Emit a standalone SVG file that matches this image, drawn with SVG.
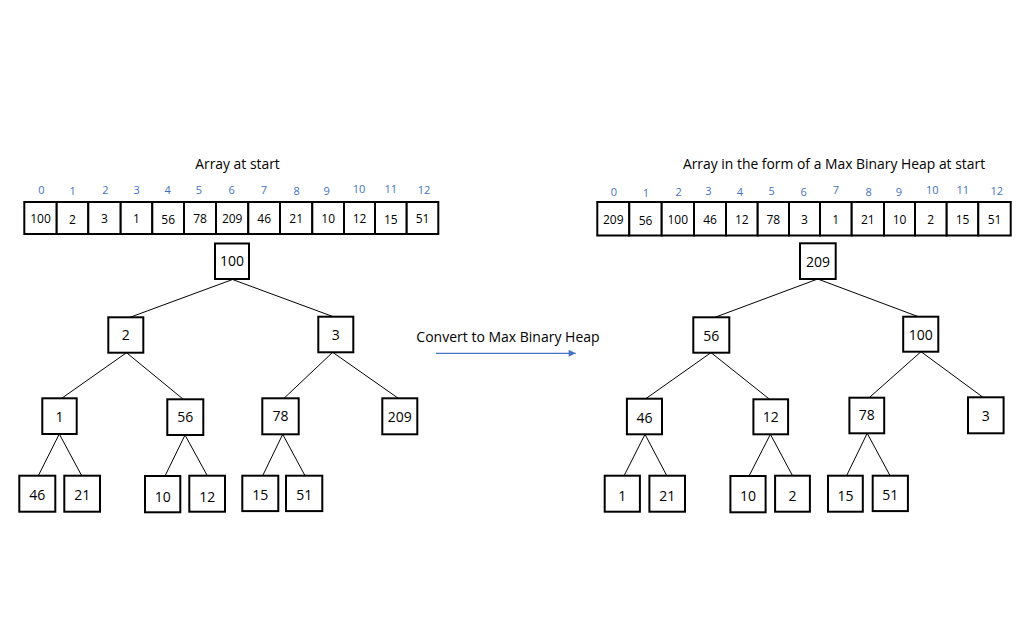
<svg xmlns="http://www.w3.org/2000/svg" width="1021" height="643" viewBox="0 0 1021 643">
<style>
  .bg{fill:#fff}
  text{font-family:"Open Sans","Noto Sans","DejaVu Sans",sans-serif;fill:#000}
  .title{font-size:13.9px}
  .idx{font-size:11px;fill:#4472C4;text-anchor:middle}
  .cell{fill:#fff;stroke:#000;stroke-width:2}
  .ct{font-size:12px;text-anchor:middle}
  .node rect{fill:#fff;stroke:#000;stroke-width:2}
  .node text{font-size:14px;text-anchor:middle}
  .edge{stroke:#000;stroke-width:1;fill:none}
  .conv{stroke:#4472C4;stroke-width:1.2;fill:none}
</style>
<defs>
  <marker id="ah" viewBox="0 0 10 10" refX="10" refY="5" markerWidth="8" markerHeight="7" markerUnits="userSpaceOnUse" orient="auto">
    <path d="M0,0 L10,5 L0,10 z" fill="#4472C4"/>
  </marker>
</defs>
<rect class="bg" x="0" y="0" width="1021" height="643"/>

<!-- Left array -->
<g id="array-start">
  <text class="title" x="237.5" y="168.5" text-anchor="middle">Array at start</text>
  <g>
    <text class="idx" x="41.5" y="193.5">0</text>
    <text class="idx" x="72.7" y="195">1</text>
    <text class="idx" x="105.5" y="193.5">2</text>
    <text class="idx" x="136.7" y="193.5">3</text>
    <text class="idx" x="167.7" y="193.5">4</text>
    <text class="idx" x="199" y="193.5">5</text>
    <text class="idx" x="231.7" y="193.5">6</text>
    <text class="idx" x="264" y="193.5">7</text>
    <text class="idx" x="296.7" y="195">8</text>
    <text class="idx" x="326.7" y="195">9</text>
    <text class="idx" x="359" y="192.5">10</text>
    <text class="idx" x="390.7" y="192.5">11</text>
    <text class="idx" x="424" y="193.5">12</text>
  </g>
  <g>
    <rect class="cell" x="24.3" y="202" width="32.4" height="32"/>
    <rect class="cell" x="56.7" y="202" width="31.6" height="32"/>
    <rect class="cell" x="88.3" y="202" width="32.4" height="32"/>
    <rect class="cell" x="120.7" y="202" width="31.6" height="32"/>
    <rect class="cell" x="152.3" y="202" width="31.7" height="32"/>
    <rect class="cell" x="184" y="202" width="32" height="32"/>
    <rect class="cell" x="216" y="202" width="32.3" height="32"/>
    <rect class="cell" x="248.3" y="202" width="31.7" height="32"/>
    <rect class="cell" x="280" y="202" width="32.3" height="32"/>
    <rect class="cell" x="312.3" y="202" width="31.7" height="32"/>
    <rect class="cell" x="344" y="202" width="31" height="32"/>
    <rect class="cell" x="375" y="202" width="31.7" height="32"/>
    <rect class="cell" x="406.7" y="202" width="31.6" height="32"/>
  </g>
  <g>
    <text class="ct" x="40.5" y="222.7">100</text>
    <text class="ct" x="72.5" y="224.2">2</text>
    <text class="ct" x="104.5" y="222.7">3</text>
    <text class="ct" x="136.5" y="222.7">1</text>
    <text class="ct" x="168.2" y="224.2">56</text>
    <text class="ct" x="200" y="222.7">78</text>
    <text class="ct" x="232.2" y="222.7">209</text>
    <text class="ct" x="264.2" y="222.7">46</text>
    <text class="ct" x="296.2" y="222.7">21</text>
    <text class="ct" x="328.2" y="222.7">10</text>
    <text class="ct" x="359.5" y="223.2">12</text>
    <text class="ct" x="390.8" y="224.2">15</text>
    <text class="ct" x="422.5" y="222.7">51</text>
  </g>
</g>

<!-- Right array -->
<g id="array-heap">
  <text class="title" x="834" y="169" text-anchor="middle">Array in the form of a Max Binary Heap at start</text>
  <g>
    <text class="idx" x="614" y="195.5">0</text>
    <text class="idx" x="646" y="196.5">1</text>
    <text class="idx" x="678.7" y="195.5">2</text>
    <text class="idx" x="708.3" y="194.5">3</text>
    <text class="idx" x="740" y="195.5">4</text>
    <text class="idx" x="771.7" y="194.5">5</text>
    <text class="idx" x="803.7" y="195.5">6</text>
    <text class="idx" x="836" y="194">7</text>
    <text class="idx" x="868.7" y="196">8</text>
    <text class="idx" x="899" y="196">9</text>
    <text class="idx" x="932.3" y="194">10</text>
    <text class="idx" x="962.7" y="194">11</text>
    <text class="idx" x="996.7" y="195">12</text>
  </g>
  <g>
    <rect class="cell" x="597.3" y="202" width="32" height="33.5"/>
    <rect class="cell" x="629.3" y="202" width="32.4" height="33.5"/>
    <rect class="cell" x="661.7" y="202" width="32.3" height="33.5"/>
    <rect class="cell" x="694" y="202" width="32" height="33.5"/>
    <rect class="cell" x="726" y="202" width="31.7" height="33.5"/>
    <rect class="cell" x="757.7" y="202" width="31.3" height="33.5"/>
    <rect class="cell" x="789" y="202" width="31" height="33.5"/>
    <rect class="cell" x="820" y="202" width="31.7" height="33.5"/>
    <rect class="cell" x="851.7" y="202" width="32.3" height="33.5"/>
    <rect class="cell" x="884" y="202" width="31" height="33.5"/>
    <rect class="cell" x="915" y="202" width="31.7" height="33.5"/>
    <rect class="cell" x="946.7" y="202" width="31.6" height="33.5"/>
    <rect class="cell" x="978.3" y="202" width="32.4" height="33.5"/>
  </g>
  <g>
    <text class="ct" x="613.3" y="223.5">209</text>
    <text class="ct" x="645.5" y="225">56</text>
    <text class="ct" x="677.8" y="223.5">100</text>
    <text class="ct" x="710" y="223.5">46</text>
    <text class="ct" x="741.8" y="223.5">12</text>
    <text class="ct" x="773.3" y="223.5">78</text>
    <text class="ct" x="804.5" y="223.5">3</text>
    <text class="ct" x="835.8" y="223.5">1</text>
    <text class="ct" x="867.8" y="223.5">21</text>
    <text class="ct" x="899.5" y="223.5">10</text>
    <text class="ct" x="930.8" y="223.5">2</text>
    <text class="ct" x="962.5" y="224.3">15</text>
    <text class="ct" x="994.5" y="223.5">51</text>
  </g>
</g>

<!-- Conversion label and arrow -->
<g id="convert">
  <text x="508" y="341.5" font-size="14" text-anchor="middle">Convert to Max Binary Heap</text>
  <line class="conv" x1="436" y1="353.3" x2="575.7" y2="353.3" marker-end="url(#ah)"/>
</g>

<!-- Connectors -->
<g id="connectors">
  <!-- left tree -->
  <line class="edge" x1="232.5" y1="279.5" x2="130" y2="317.3"/>
  <line class="edge" x1="232.5" y1="279.5" x2="333.3" y2="316.7"/>
  <line class="edge" x1="126.5" y1="352.7" x2="61.7" y2="398.3"/>
  <line class="edge" x1="126.5" y1="352.7" x2="183.3" y2="399.3"/>
  <line class="edge" x1="332.7" y1="352.3" x2="284" y2="398.3"/>
  <line class="edge" x1="332.7" y1="352.3" x2="398.3" y2="398.3"/>
  <line class="edge" x1="59.3" y1="434" x2="38.3" y2="475.7"/>
  <line class="edge" x1="59.3" y1="434" x2="81.7" y2="475.7"/>
  <line class="edge" x1="185" y1="435" x2="165" y2="476"/>
  <line class="edge" x1="185" y1="435" x2="207.3" y2="475.7"/>
  <line class="edge" x1="282.7" y1="434.3" x2="262.7" y2="475.7"/>
  <line class="edge" x1="282.7" y1="434.3" x2="305" y2="475.7"/>
  <!-- right tree -->
  <line class="edge" x1="817.7" y1="279" x2="715" y2="317.3"/>
  <line class="edge" x1="817.7" y1="279" x2="918.3" y2="316.7"/>
  <line class="edge" x1="711" y1="352.6" x2="645.8" y2="398.7"/>
  <line class="edge" x1="711" y1="352.6" x2="769.6" y2="399.3"/>
  <line class="edge" x1="921" y1="351.7" x2="869.2" y2="397.7"/>
  <line class="edge" x1="921" y1="351.7" x2="983" y2="397.3"/>
  <line class="edge" x1="645" y1="434.3" x2="624.1" y2="475.7"/>
  <line class="edge" x1="645" y1="434.3" x2="666.8" y2="475.7"/>
  <line class="edge" x1="770.4" y1="434.3" x2="749" y2="476"/>
  <line class="edge" x1="770.4" y1="434.3" x2="792.5" y2="475.7"/>
  <line class="edge" x1="867.2" y1="433.3" x2="846.6" y2="475.7"/>
  <line class="edge" x1="867.2" y1="433.3" x2="890.1" y2="475.7"/>
</g>

<!-- Left tree nodes -->
<g id="L0" class="node"><rect x="215" y="243.5" width="34" height="35.5"/><text x="232" y="266.3">100</text></g>
<g id="L1" class="node"><rect x="108.3" y="317.3" width="35" height="35.4"/><text x="125.8" y="340">2</text></g>
<g id="L2" class="node"><rect x="318.3" y="316.7" width="35" height="35.6"/><text x="335.8" y="339.5">3</text></g>
<g id="L3" class="node"><rect x="42.3" y="398.3" width="34.4" height="35.7"/><text x="59.5" y="422">1</text></g>
<g id="L4" class="node"><rect x="167.3" y="399.3" width="36" height="35.7"/><text x="185.3" y="422.3">56</text></g>
<g id="L5" class="node"><rect x="262.3" y="398.3" width="36.4" height="36"/><text x="280.5" y="420.8">78</text></g>
<g id="L6" class="node"><rect x="382.3" y="398.3" width="35" height="36"/><text x="399.8" y="421.5">209</text></g>
<g id="L7" class="node"><rect x="19.3" y="475.7" width="36" height="36"/><text x="37.3" y="500">46</text></g>
<g id="L8" class="node"><rect x="64.3" y="475.7" width="35.7" height="36"/><text x="82.2" y="500">21</text></g>
<g id="L9" class="node"><rect x="145" y="476" width="35.3" height="36.3"/><text x="162.7" y="501.5">10</text></g>
<g id="L10" class="node"><rect x="189.3" y="475.7" width="35.7" height="36"/><text x="207.2" y="501.5">12</text></g>
<g id="L11" class="node"><rect x="242.3" y="475.7" width="36" height="35.4"/><text x="260.3" y="500">15</text></g>
<g id="L12" class="node"><rect x="286" y="475.7" width="36.3" height="35.4"/><text x="304.2" y="499.5">51</text></g>

<!-- Right tree nodes -->
<g id="R0" class="node"><rect x="800" y="243.3" width="35.7" height="35.7"/><text x="817.9" y="266.5">209</text></g>
<g id="R1" class="node"><rect x="693.3" y="317.3" width="36" height="35.4"/><text x="711.3" y="340.5">56</text></g>
<g id="R2" class="node"><rect x="903.2" y="316.7" width="35.1" height="35"/><text x="920.8" y="339.5">100</text></g>
<g id="R3" class="node"><rect x="626.9" y="398.7" width="35.1" height="35.6"/><text x="644.5" y="422.5">46</text></g>
<g id="R4" class="node"><rect x="753.4" y="399.3" width="34.7" height="35"/><text x="770.7" y="421.8">12</text></g>
<g id="R5" class="node"><rect x="849.4" y="397.7" width="34.8" height="35.6"/><text x="866.8" y="420.3">78</text></g>
<g id="R6" class="node"><rect x="968" y="397.3" width="35.6" height="36"/><text x="985.8" y="421">3</text></g>
<g id="R7" class="node"><rect x="604.7" y="475.7" width="35.2" height="36"/><text x="622.3" y="500.5">1</text></g>
<g id="R8" class="node"><rect x="649.4" y="475.7" width="35.6" height="36"/><text x="667.2" y="500.5">21</text></g>
<g id="R9" class="node"><rect x="730.4" y="476" width="35.2" height="36.3"/><text x="748" y="501">10</text></g>
<g id="R10" class="node"><rect x="775.1" y="475.7" width="34.8" height="36"/><text x="792.5" y="500.5">2</text></g>
<g id="R11" class="node"><rect x="828" y="475.7" width="34.8" height="36"/><text x="845.4" y="501">15</text></g>
<g id="R12" class="node"><rect x="872.7" y="475.7" width="35.2" height="35.4"/><text x="890.3" y="499.5">51</text></g>
</svg>
